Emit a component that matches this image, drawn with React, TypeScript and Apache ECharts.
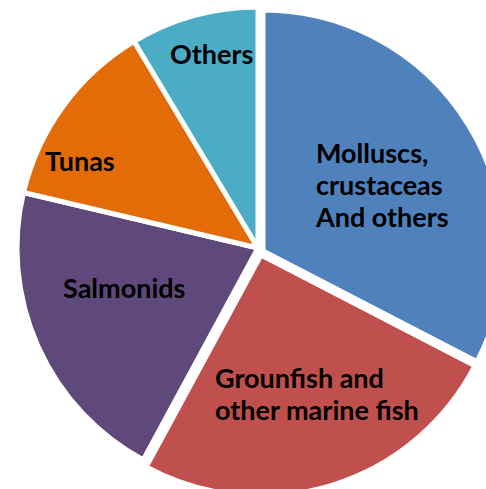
import React, { useEffect, useRef } from "react";
import * as echarts from "echarts";

const categories = [
  "Molluscs,\ncrustaceas\nAnd others",
  "Grounfish and\nother marine fish",
  "Salmonids",
  "Tunas",
  "Others",
];
const values = [32.6, 25.3, 20.8, 12.7, 8.6];
const colors = ["#4F81BD", "#C0504D", "#5F497A", "#E36C09", "#4BACC6"];
// which drawn layer each slice belongs to (exploded slices get their own centre)
const sliceLayer = [1, 2, 0, 0, 0];
const layerCenters = [
  [258, 248],
  [263, 251],
  [261, 255],
];
const labelPos = [
  [316, 184],
  [215, 393],
  [63, 287],
  [45, 160],
  [170, 53],
];

export default function App() {
  const ref = useRef<HTMLDivElement>(null);
  useEffect(() => {
    const chart = echarts.init(ref.current!, undefined, { renderer: "svg" });
    const series = layerCenters.map((c, layer) => ({
      type: "pie",
      center: c,
      radius: 241,
      startAngle: 90,
      clockwise: true,
      silent: true,
      emphasis: { disabled: true },
      labelLine: { show: false },
      label: {
        show: true,
        position: "inside",
        color: "#000000",
        fontFamily: "Lato",
        fontWeight: "bold",
        fontSize: 27,
        lineHeight: 32,
      },
      labelLayout: (p: any) => ({
        x: labelPos[p.dataIndex][0],
        y: labelPos[p.dataIndex][1],
        align: "left",
        verticalAlign: "middle",
      }),
      data: categories.map((name, i) => {
        const on = sliceLayer[i] === layer;
        return {
          name,
          value: values[i],
          itemStyle: on
            ? { color: colors[i], borderColor: "#ffffff", borderWidth: 5 }
            : { color: "rgba(0,0,0,0)", borderWidth: 0 },
          label: { show: on, formatter: name },
        };
      }),
    }));
    chart.setOption({ animation: false, series });
    return () => chart.dispose();
  }, []);
  return (
    <div
      ref={ref}
      style={{ position: "fixed", left: 0, top: 0, width: 486, height: 489, background: "#fff" }}
    />
  );
}
